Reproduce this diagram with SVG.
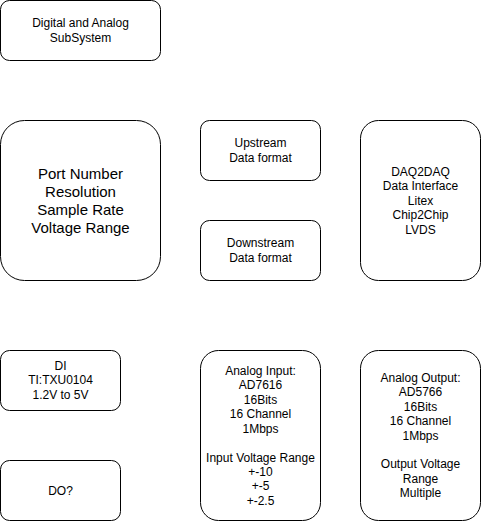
<svg xmlns="http://www.w3.org/2000/svg" width="482" height="521" viewBox="0 0 482 521">
<style>
rect{fill:#fff;stroke:#000;stroke-width:1}
text{font-family:"Liberation Sans",Arial,sans-serif;font-size:12px;fill:#000;text-anchor:middle}
.big{font-size:15px}
</style>
<rect x="0" y="0" width="482" height="521" style="stroke:none"/>
<g id="connectors"></g>
<g id="subsystem"><rect x="0.5" y="0.5" width="160" height="60" rx="9"/>
<text x="80.5" y="27">Digital and Analog</text><text x="80.5" y="42">SubSystem</text></g>
<g id="params"><rect x="0.5" y="120.5" width="160" height="160" rx="24"/>
<text class="big" x="80.5" y="179">Port Number</text><text class="big" x="80.5" y="197">Resolution</text><text class="big" x="80.5" y="215">Sample Rate</text><text class="big" x="80.5" y="233">Voltage Range</text></g>
<g id="upstream"><rect x="200.5" y="120.5" width="120" height="60" rx="9"/>
<text x="260.5" y="147">Upstream</text><text x="260.5" y="162">Data format</text></g>
<g id="downstream"><rect x="200.5" y="220.5" width="120" height="60" rx="9"/>
<text x="260.5" y="247">Downstream</text><text x="260.5" y="262">Data format</text></g>
<g id="daq2daq"><rect x="360.5" y="120.5" width="120" height="160" rx="18"/>
<text x="420.5" y="176">DAQ2DAQ</text><text x="420.5" y="190">Data Interface</text><text x="420.5" y="205">Litex</text><text x="420.5" y="219">Chip2Chip</text><text x="420.5" y="234">LVDS</text></g>
<g id="di"><rect x="0.5" y="350.5" width="120" height="60" rx="9"/>
<text x="60.5" y="370">DI</text><text x="60.5" y="384">TI:TXU0104</text><text x="60.5" y="399">1.2V to 5V</text></g>
<g id="do"><rect x="0.5" y="460.5" width="120" height="60" rx="9"/>
<text x="60.5" y="495">DO?</text></g>
<g id="ai"><rect x="200.5" y="350.5" width="120" height="170" rx="18"/>
<text x="260.5" y="375">Analog Input:</text><text x="260.5" y="389">AD7616</text><text x="260.5" y="404">16Bits</text><text x="260.5" y="418">16 Channel</text><text x="260.5" y="433">1Mbps</text><text x="260.5" y="462">Input Voltage Range</text><text x="260.5" y="476">+-10</text><text x="260.5" y="490">+-5</text><text x="260.5" y="505">+-2.5</text></g>
<g id="ao"><rect x="360.5" y="350.5" width="120" height="170" rx="18"/>
<text x="420.5" y="382">Analog Output:</text><text x="420.5" y="396">AD5766</text><text x="420.5" y="411">16Bits</text><text x="420.5" y="425">16 Channel</text><text x="420.5" y="440">1Mbps</text><text x="420.5" y="468">Output Voltage</text><text x="420.5" y="483">Range</text><text x="420.5" y="497">Multiple</text></g>
</svg>
